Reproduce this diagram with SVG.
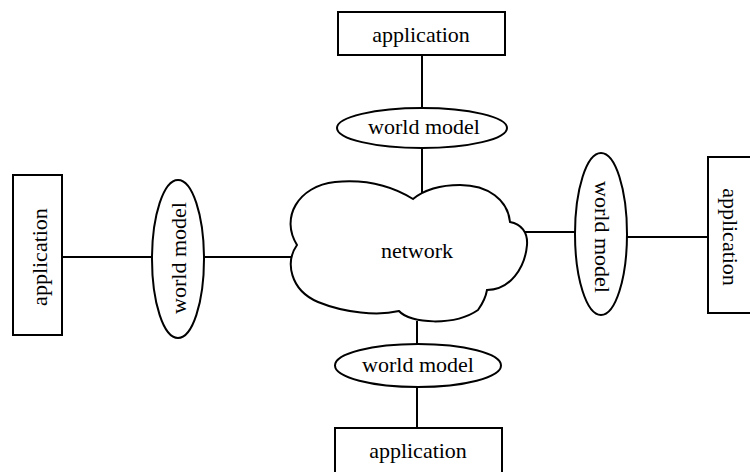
<svg xmlns="http://www.w3.org/2000/svg" width="750" height="472" viewBox="0 0 750 472">
  <style>
    .shape { fill: #ffffff; stroke: #000000; stroke-width: 2; }
    .wire { fill: none; stroke: #000000; stroke-width: 2; }
    .label { font-family: "Liberation Serif", "Times New Roman", serif; font-size: 22px; fill: #000000; text-anchor: middle; }
  </style>
  <rect width="750" height="472" fill="#ffffff"/>

  <g id="connectors">
    <line class="wire" x1="422" y1="55" x2="422" y2="108"/>
    <line class="wire" x1="422" y1="148" x2="422" y2="194"/>
    <line class="wire" x1="417" y1="321" x2="417" y2="344"/>
    <line class="wire" x1="417" y1="387" x2="417" y2="428"/>
    <line class="wire" x1="62" y1="257" x2="152" y2="257"/>
    <line class="wire" x1="204" y1="257" x2="294" y2="257"/>
    <line class="wire" x1="525" y1="232" x2="575" y2="232"/>
    <line class="wire" x1="627" y1="237" x2="708" y2="237"/>
  </g>

  <g id="network">
    <path class="shape" d="M413,199 C392,186 365,179 335,182 C298,186 280,218 297,245 C285,262 290,290 318,302 C345,313 378,316 399,311 C410,324 455,326 478,310 C483,303 486,296 487,290 C510,290 525,268 527,245 C528,232 521,224 510,222 C508,200 488,185 460,185 C440,185 424,190 413,199 Z"/>
    <text class="label" x="417" y="258">network</text>
  </g>

  <g id="app-top">
    <rect class="shape" x="338" y="12" width="167" height="43"/>
    <text class="label" x="421" y="42">application</text>
  </g>
  <g id="model-top">
    <ellipse class="shape" cx="422" cy="128" rx="85" ry="20"/>
    <text class="label" x="424" y="134">world model</text>
  </g>

  <g id="model-bottom">
    <ellipse class="shape" cx="418" cy="365.5" rx="83" ry="21.5"/>
    <text class="label" x="418" y="372">world model</text>
  </g>
  <g id="app-bottom">
    <rect class="shape" x="335" y="428" width="167" height="60"/>
    <text class="label" x="418" y="458">application</text>
  </g>

  <g id="app-left">
    <rect class="shape" x="13" y="175" width="49" height="160"/>
    <text class="label" transform="translate(47,257) rotate(-90)">application</text>
  </g>
  <g id="model-left">
    <ellipse class="shape" cx="178" cy="259" rx="26" ry="79"/>
    <text class="label" transform="translate(186,258) rotate(-90)">world model</text>
  </g>

  <g id="model-right">
    <ellipse class="shape" cx="601" cy="234" rx="26" ry="81"/>
    <text class="label" transform="translate(595,237) rotate(90)">world model</text>
  </g>
  <g id="app-right">
    <rect class="shape" x="708" y="157" width="60" height="156"/>
    <text class="label" transform="translate(723,237) rotate(90)">application</text>
  </g>
</svg>
